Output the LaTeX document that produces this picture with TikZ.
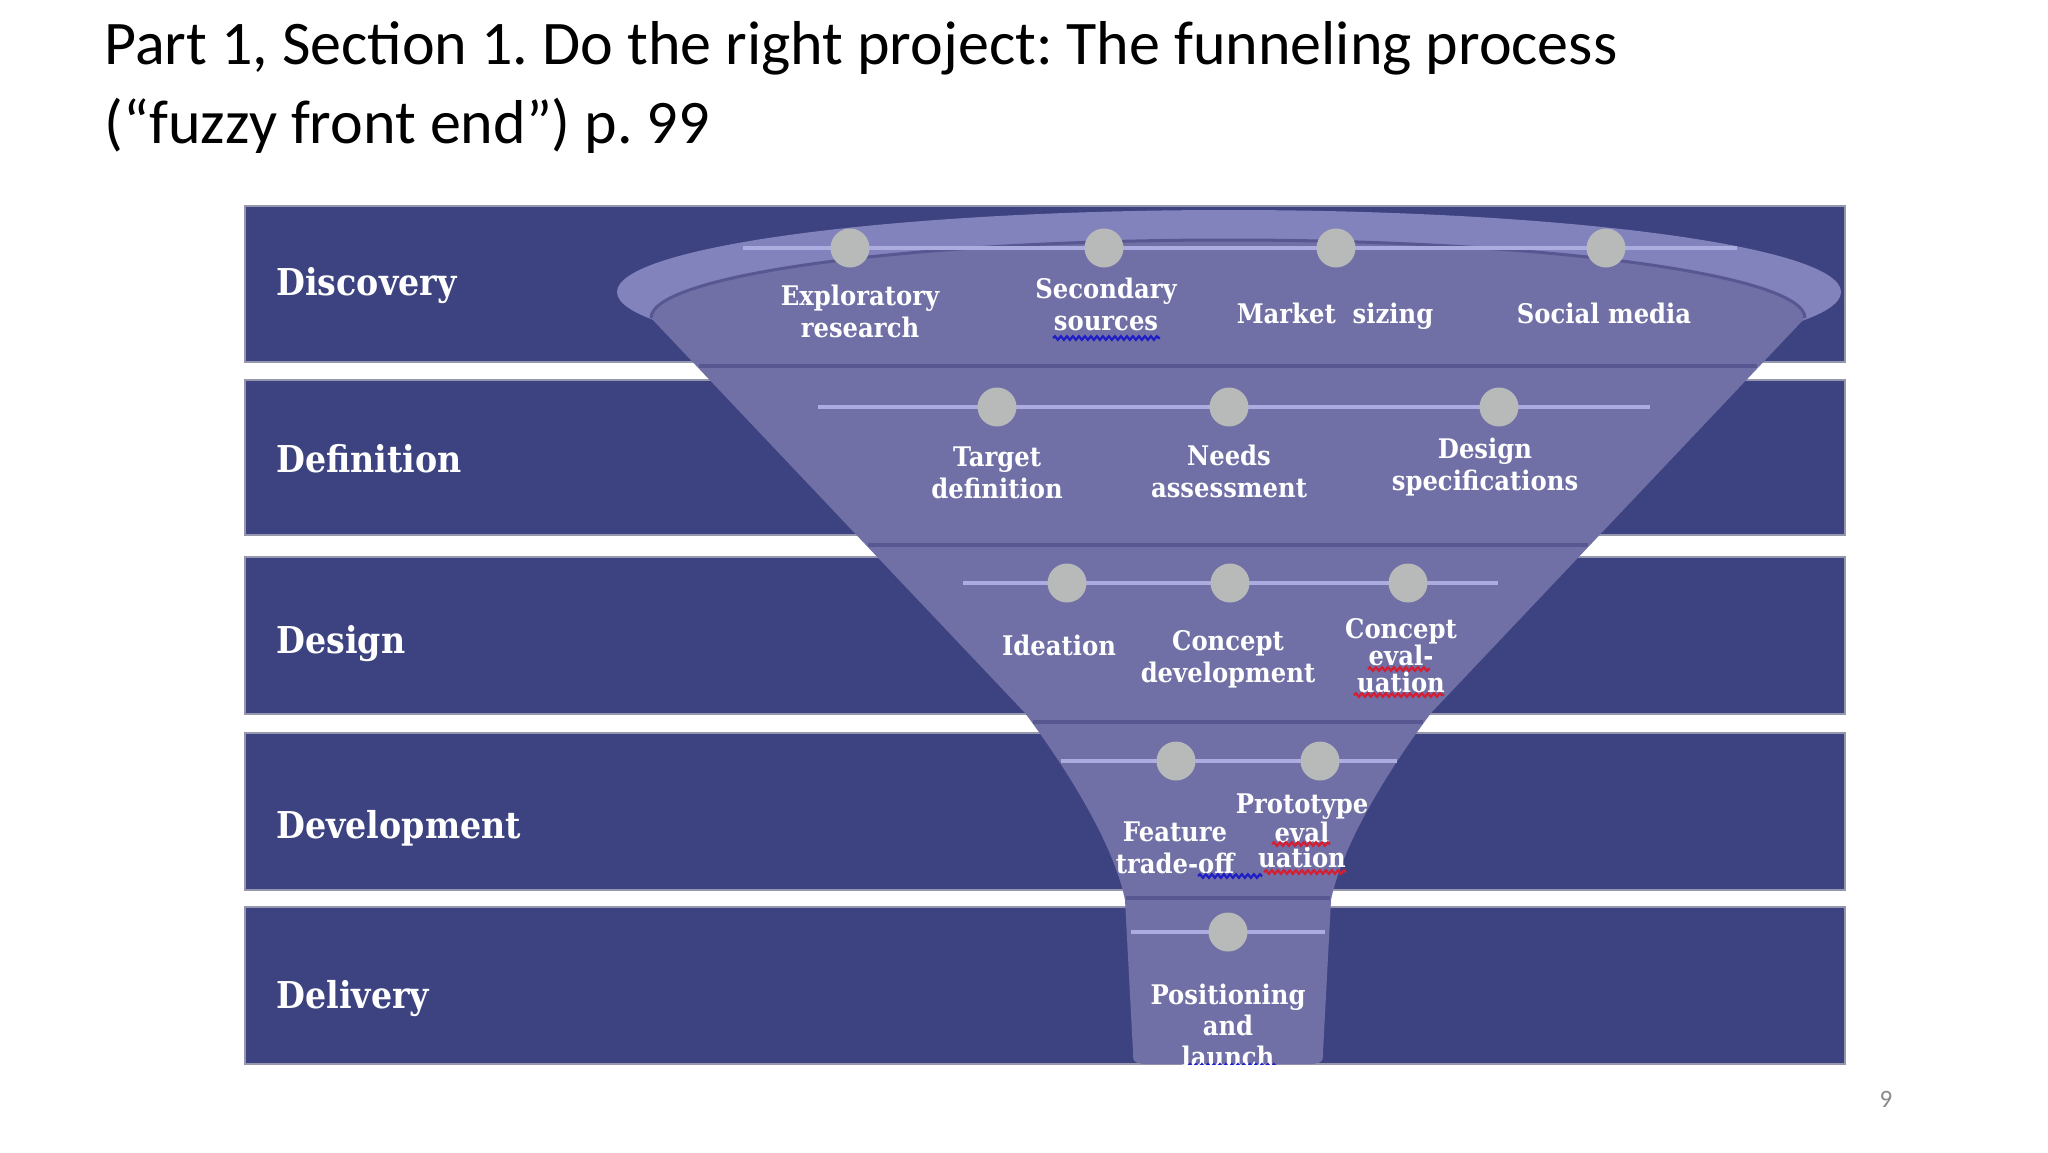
\documentclass[tikz,border=0pt]{standalone}
\usepackage{fontspec}
\setmainfont{Carlito}
\newfontfamily\stagefont[FakeStretch=0.9]{DejaVu Serif}
\usepackage{tikz}
\usetikzlibrary{decorations.pathmorphing}
\frenchspacing

\definecolor{bandblue}{RGB}{60,67,128}
\definecolor{bandedge}{RGB}{150,150,172}
\definecolor{funnelbody}{RGB}{112,111,166}
\definecolor{rimlight}{RGB}{130,131,188}
\definecolor{rimdark}{RGB}{88,87,146}
\definecolor{linelav}{RGB}{172,172,224}
\definecolor{dotgray}{RGB}{184,186,186}
\definecolor{spellred}{RGB}{214,30,50}
\definecolor{spellblue}{RGB}{30,30,200}
\definecolor{pagegray}{RGB}{137,137,137}

\begin{document}
\begin{tikzpicture}[x=0.5pt,y=0.5pt,yscale=-1,xscale=1,
	band/.style={fill=bandblue, draw=bandedge, line width=0.75pt},
	divider/.style={draw=rimdark, line width=2pt},
	dotline/.style={draw=linelav, line width=2pt},
	dot/.style={circle, fill=dotgray, minimum size=19.5pt, inner sep=0pt},
	stage/.style={anchor=base west, inner sep=0pt, text=white, font=\stagefont\bfseries\fontsize{18.5}{22}\selectfont},
	task/.style={anchor=base, inner sep=0pt, align=center, text=white, font=\stagefont\bfseries\fontsize{13.5}{16}\selectfont},
	squig/.style={decorate, decoration={snake, amplitude=0.9pt, segment length=3pt}, line width=1.1pt}]
	\useasboundingbox (0,0) rectangle (2048,1152);

	% Text Node
	\node (title) [anchor=base west, inner sep=0pt, font=\fontsize{31}{37}\selectfont] at (104,64) {Part 1, Section 1. Do the right project: The funneling process};
	% Text Node
	\node (subtitle) [anchor=base west, inner sep=0pt, font=\fontsize{31}{37}\selectfont] at (104,143) {(“fuzzy front end”) p. 99};
	% Text Node
	\node (pagenum) [anchor=base, inner sep=0pt, text=pagegray, font=\fontsize{12.5}{15}\selectfont] at (1886,1107) {9};

	%Shape: Rectangle
	\filldraw [band] (245,206) rectangle (1845,362);
	%Shape: Rectangle
	\filldraw [band] (245,380) rectangle (1845,535);
	%Shape: Rectangle
	\filldraw [band] (245,557) rectangle (1845,714);
	%Shape: Rectangle
	\filldraw [band] (245,733) rectangle (1845,890);
	%Shape: Rectangle
	\filldraw [band] (245,907) rectangle (1845,1064);

	%Shape: Ellipse (rim of the funnel)
	\fill [rimlight] (1229,292) ellipse [x radius=612, y radius=82];
	%Shape: Funnel body
	\fill [funnelbody] (651,318) arc [start angle=180, end angle=360, x radius=577, y radius=78]
		-- (1431,713) .. controls (1381,780) and (1341,850) .. (1331,900)
		-- (1323,1052) .. controls (1323,1062) .. (1313,1064) -- (1143,1064)
		.. controls (1133,1062) .. (1133,1052) -- (1125,900)
		.. controls (1115,850) and (1075,780) .. (1025,713) -- cycle;
	%Curve Lines
	\draw [rimdark, line width=1.5pt] (651,318) arc [start angle=180, end angle=360, x radius=577, y radius=78];
	%Straight Lines
	\draw [divider] (699,366) -- (1757,366);
	\draw [divider] (868,545) -- (1588,545);
	\draw [divider] (1033,722) -- (1423,722);
	\draw [divider] (1126,898) -- (1330,898);

	% Discovery row
	\coordinate (r1a) at (743,248);
	\coordinate (r1b) at (1737,248);
	\draw [dotline] (r1a) -- (r1b);
	\node (d11) [dot] at (850,248) {};
	\node (d12) [dot] at (1104,248) {};
	\node (d13) [dot] at (1336,248) {};
	\node (d14) [dot] at (1606,248) {};
	% Definition row
	\coordinate (r2a) at (818,407);
	\coordinate (r2b) at (1650,407);
	\draw [dotline] (r2a) -- (r2b);
	\node (d21) [dot] at (997,407) {};
	\node (d22) [dot] at (1229,407) {};
	\node (d23) [dot] at (1499,407) {};
	% Design row
	\coordinate (r3a) at (963,583);
	\coordinate (r3b) at (1498,583);
	\draw [dotline] (r3a) -- (r3b);
	\node (d31) [dot] at (1067,583) {};
	\node (d32) [dot] at (1230,583) {};
	\node (d33) [dot] at (1408,583) {};
	% Development row
	\coordinate (r4a) at (1061,761);
	\coordinate (r4b) at (1397,761);
	\draw [dotline] (r4a) -- (r4b);
	\node (d41) [dot] at (1176,761) {};
	\node (d42) [dot] at (1320,761) {};
	% Delivery row
	\coordinate (r5a) at (1131,932);
	\coordinate (r5b) at (1325,932);
	\draw [dotline] (r5a) -- (r5b);
	\node (d51) [dot] at (1228,932) {};

	% Text Node
	\node (discovery) [stage] at (276,295) {Discovery};
	% Text Node
	\node (definition) [stage] at (276,472) {Definition};
	% Text Node
	\node (design) [stage] at (276,653) {Design};
	% Text Node
	\node (development) [stage] at (276,838) {Development};
	% Text Node
	\node (delivery) [stage] at (276,1008) {Delivery};

	% Text Node (base = last line)
	\node (exploratory) [task] at (860,337) {Exploratory\\research};
	% Text Node
	\node (secondary) [task] at (1106,330) {Secondary\\sources};
	% Text Node
	\node (market) [task] at (1335,323) {Market\ \ sizing};
	% Text Node
	\node (social) [task] at (1604,323) {Social media};
	% Text Node
	\node (target) [task] at (997,498) {Target\\definition};
	% Text Node
	\node (needs) [task] at (1229,497) {Needs\\assessment};
	% Text Node
	\node (specs) [task] at (1485,490) {Design\\specifications};
	% Text Node
	\node (ideation) [task] at (1059,655) {Ideation};
	% Text Node
	\node (conceptdev) [task] at (1228,682) {Concept\\development};
	% Text Node
	\node (concepteval) [task, font=\stagefont\bfseries\fontsize{13.5}{13.5}\selectfont] at (1401,692) {Concept\\eval-\\uation};
	% Text Node
	\node (feature) [task] at (1175,873) {Feature\\trade-off};
	% Text Node
	\node (prototype) [task, font=\stagefont\bfseries\fontsize{13.5}{12.5}\selectfont] at (1302,867) {Prototype\\eval\\uation};

	% spelling marks
	\draw [squig, spellblue] (1053,338) -- (1160,338);
	\draw [squig, spellred] (1368,669) -- (1430,669);
	\draw [squig, spellred] (1354,695) -- (1444,695);
	\draw [squig, spellred] (1272,844) -- (1330,844);
	\draw [squig, spellred] (1264,872) -- (1346,872);
	\draw [squig, spellblue] (1198,876) -- (1262,876);

	\begin{scope}
		\clip (245,206) rectangle (1845,1064);
		% Text Node
		\node (positioning) [task, font=\stagefont\bfseries\fontsize{13.5}{15.5}\selectfont] at (1228,1066) {Positioning\\and\\launch};
		\draw [squig, spellblue] (1188,1066) -- (1276,1066);
	\end{scope}

\end{tikzpicture}
\end{document}
